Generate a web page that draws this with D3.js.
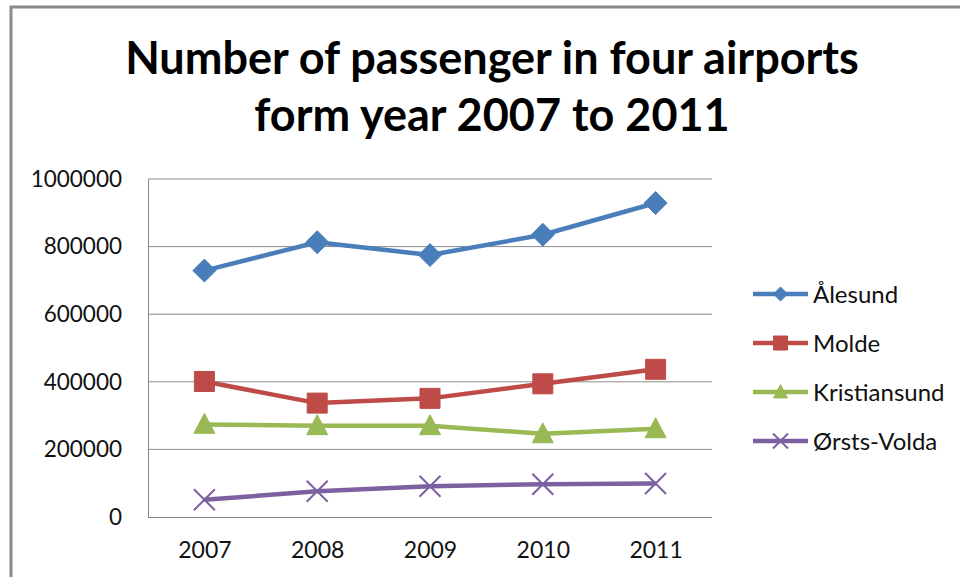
<!DOCTYPE html>
<html>
<head>
<meta charset="utf-8">
<script src="https://cdn.jsdelivr.net/npm/d3@7"></script>
<style>
  html, body { margin: 0; padding: 0; background: #fff; }
  svg { display: block; font-family: Lato, "Open Sans", sans-serif; }
</style>
</head>
<body>
<svg id="chart" width="960" height="577"></svg>
<script>
// Passenger counts per airport, 2007–2011
const years = ["2007", "2008", "2009", "2010", "2011"];
const alesund = [729000, 813000, 775000, 835000, 929000];
const molde = [401000, 337000, 351000, 394000, 437000];
const kristiansund = [274000, 270000, 270000, 246000, 261000];
const orstaVolda = [51000, 76000, 91000, 97000, 99000];
const seriesNames = ["Ålesund", "Molde", "Kristiansund", "Ørsts-Volda"];
const yTicks = [0, 200000, 400000, 600000, 800000, 1000000];
const titleLines = ["Number of passenger in four airports", "form year 2007 to 2011"];

const series = [
  { name: seriesNames[0], values: alesund, color: "#4a7ebb", marker: "diamond" },
  { name: seriesNames[1], values: molde, color: "#be4b48", marker: "square" },
  { name: seriesNames[2], values: kristiansund, color: "#98b954", marker: "triangle" },
  { name: seriesNames[3], values: orstaVolda, color: "#7d60a0", marker: "cross" }
];

const svg = d3.select("#chart");
const plot = { left: 148, right: 712, top: 179, bottom: 517 };

// Outer chart frame (left and top edges visible)
svg.append("path")
  .attr("d", "M11,577 V7 H960")
  .attr("fill", "none")
  .attr("stroke", "#8a8a8a")
  .attr("stroke-width", 3);

// Title
svg.append("g").selectAll("text")
  .data(titleLines)
  .join("text")
  .attr("x", 492)
  .attr("y", (d, i) => 74 + i * 57)
  .attr("text-anchor", "middle")
  .attr("font-weight", "bold")
  .attr("font-size", 45)
  .attr("fill", "#000")
  .text(d => d);

const x = d3.scalePoint().domain(years).range([plot.left, plot.right]).padding(0.5);
const y = d3.scaleLinear().domain([0, 1000000]).range([plot.bottom, plot.top]);

// Horizontal gridlines
svg.append("g")
  .selectAll("line")
  .data(yTicks.filter(t => t > 0))
  .join("line")
  .attr("x1", plot.left).attr("x2", plot.right)
  .attr("y1", d => y(d)).attr("y2", d => y(d))
  .attr("stroke", "#8c8c8c")
  .attr("stroke-width", 1);

// Y axis
const yAxis = svg.append("g")
  .attr("transform", `translate(${plot.left},0)`)
  .call(d3.axisLeft(y).tickValues(yTicks).tickSize(0).tickPadding(26).tickFormat(d3.format("d")));
yAxis.select(".domain").attr("stroke", "#868686");
yAxis.selectAll("text").attr("font-size", 22.5).attr("fill", "#111").attr("font-family", "Lato, sans-serif");

// X axis
const xAxis = svg.append("g")
  .attr("transform", `translate(0,${plot.bottom})`)
  .call(d3.axisBottom(x).tickSize(0).tickPadding(25).tickSizeOuter(0));
xAxis.select(".domain").attr("stroke", "#868686").attr("d", `M${plot.left},0.5H${plot.right}`);
xAxis.selectAll("text").attr("font-size", 23).attr("fill", "#111").attr("font-family", "Lato, sans-serif");

// Marker shapes
function markerPath(type, s) {
  const h = s / 2;
  switch (type) {
    case "diamond": return `M0,${-h}L${h},0L0,${h}L${-h},0Z`;
    case "square": return `M${-h},${-h}H${h}V${h}H${-h}Z`;
    case "triangle": return `M0,${-h * 1.05}L${h},${h * 0.85}L${-h},${h * 0.85}Z`;
    case "cross": return `M${-h},${-h}L${h},${h}M${h},${-h}L${-h},${h}`;
  }
}
function drawMarker(g, type, color, size) {
  const p = g.append("path").attr("d", markerPath(type, size));
  if (type === "cross") {
    p.attr("fill", "none").attr("stroke", color).attr("stroke-width", 2);
  } else {
    p.attr("fill", color).attr("stroke", color).attr("stroke-width", 1);
  }
}

const line = d3.line().x((d, i) => x(years[i])).y(d => y(d));
const markerSize = { diamond: 23, square: 20, triangle: 21, cross: 21 };

series.forEach(s => {
  const g = svg.append("g");
  g.append("path")
    .attr("d", line(s.values))
    .attr("fill", "none")
    .attr("stroke", s.color)
    .attr("stroke-width", 4.5)
    .attr("stroke-linejoin", "round");
  s.values.forEach((v, i) => {
    const m = g.append("g").attr("transform", `translate(${x(years[i])},${y(v)})`);
    drawMarker(m, s.marker, s.color, markerSize[s.marker]);
  });
});

// Legend
const legend = svg.append("g").attr("transform", "translate(753,294)");
series.forEach((s, i) => {
  const row = legend.append("g").attr("transform", `translate(0,${i * 49})`);
  row.append("line")
    .attr("x1", 0).attr("x2", 55)
    .attr("stroke", s.color).attr("stroke-width", 4.5);
  const m = row.append("g").attr("transform", "translate(27.5,0)");
  drawMarker(m, s.marker, s.color, s.marker === "cross" ? 15 : 14);
  row.append("text")
    .attr("x", 60)
    .attr("dy", "0.36em")
    .attr("font-size", 24)
    .attr("fill", "#111")
    .text(s.name);
});
</script>
</body>
</html>
